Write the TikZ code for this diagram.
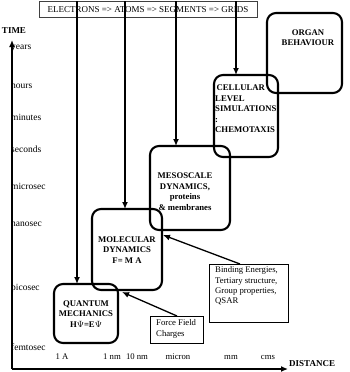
\documentclass[tikz,border=0pt]{standalone}
\usepackage{fontspec}
\setmainfont{Liberation Serif}
\usetikzlibrary{arrows.meta}
\begin{document}
\begin{tikzpicture}[x=1pt,y=-1pt,
  bigbox/.style={draw,line width=2.1pt,rounded corners=9pt,inner sep=0pt},
  thinbox/.style={draw,line width=0.7pt,inner sep=0pt},
  btxt/.style={font=\fontsize{8.7}{10.5}\selectfont\bfseries,align=center,inner sep=0pt},
  ltxt/.style={font=\fontsize{8.7}{10.3}\selectfont,align=left,inner sep=0pt,anchor=north west},
  tlab/.style={font=\fontsize{9.5}{11}\selectfont,anchor=west,inner sep=0pt},
  dlab/.style={font=\fontsize{8.7}{10}\selectfont,inner sep=0pt},
  arr/.style={line width=1.3pt,-{Latex[length=7pt,width=6pt]}},
  axis/.style={line width=1.3pt,-{Latex[length=7pt,width=6pt]}}
]
\useasboundingbox (0,0) rectangle (350,372);

% top box
\node[thinbox,draw=black!75,minimum width=218pt,minimum height=16pt,font=\fontsize{9}{10}\selectfont] (top) at (148,9.5) {ELECTRONS => ATOMS => SEGMENTS => GRIDS};

% big boxes
\node[bigbox,minimum width=64pt,minimum height=59pt] (qm) at (86,313.5) {};
\node[btxt] (qmt) at (86,314) {QUANTUM\\MECHANICS\\H$\Psi$=E$\Psi$};

\node[bigbox,minimum width=70pt,minimum height=81pt] (md) at (127,249.5) {};
\node[btxt] (mdt) at (127,250) {MOLECULAR\\DYNAMICS\\F= M A};

\node[bigbox,minimum width=80pt,minimum height=84pt] (meso) at (190,188) {};
\node[btxt] (mesot) at (185,191.5) {MESOSCALE\\DYNAMICS,\\proteins\\\& membranes};

\node[bigbox,minimum width=64pt,minimum height=82pt] (cell) at (246,116) {};
\node[btxt,align=left,anchor=north west] (cellt) at (215,85) {\,CELLULAR\\LEVEL\\SIMULATIONS\\:\\CHEMOTAXIS};

\node[bigbox,minimum width=75pt,minimum height=80pt] (organ) at (304.5,53) {};
\node[btxt] (organt) at (308,37.5) {ORGAN\\BEHAVIOUR};

% thin boxes
\node[thinbox,minimum width=79pt,minimum height=58pt] (bind) at (248.5,293) {};
\node[ltxt] (bindt) at (215,266.5) {Binding Energies,\\Tertiary structure,\\Group properties,\\QSAR};

\node[thinbox,minimum width=53pt,minimum height=27pt] (ff) at (176.5,329.5) {};
\node[ltxt] (fft) at (156,319.5) {Force Field\\Charges};

% vertical arrows from the top box
\coordinate (a1) at (77,284);
\coordinate (a2) at (125,209);
\coordinate (a3) at (176,146);
\coordinate (a4) at (236,75);
\draw[arr] (a1 |- top.north) -- (a1);
\draw[arr] (a2 |- top.north) -- (a2);
\draw[arr] (a3 |- top.north) -- (a3);
\draw[arr] (a4 |- top.north) -- (a4);

% annotation arrows
\coordinate (b0) at (240,264);
\coordinate (b1) at (163,235);
\draw[arr] (b0) -- (b1);
\coordinate (f0) at (177,316);
\coordinate (f1) at (122,292);
\draw[arr] (f0) -- (f1);

% axes
\coordinate (o) at (12,369);
\coordinate (ty) at (12,40);
\coordinate (dx) at (288,369);
\draw[axis] (o) -- (ty);
\draw[axis] (o) -- (dx);
\node[font=\fontsize{9}{10}\selectfont\bfseries,inner sep=0pt] (time) at (14,31) {TIME};
\node[font=\fontsize{9}{10}\selectfont\bfseries,anchor=west,inner sep=0pt] (dist) at (289,364) {DISTANCE};

% time labels
\node[tlab] (t1) at (11,48) {years};
\node[tlab] (t2) at (11,85) {hours};
\node[tlab] (t3) at (11,117) {minutes};
\node[tlab] (t4) at (11,149) {seconds};
\node[tlab] (t5) at (11,186) {microsec};
\node[tlab] (t6) at (11,224) {nanosec};
\node[tlab] (t7) at (11,288) {picosec};
\node[tlab] (t8) at (11,347) {femtosec};

% distance labels
\node[dlab] (d1) at (62,357) {1 A};
\node[dlab] (d2) at (112,357) {1 nm};
\node[dlab] (d3) at (137,357) {10 nm};
\node[dlab] (d4) at (178,357) {micron};
\node[dlab] (d5) at (231,357) {mm};
\node[dlab] (d6) at (268,357) {cms};
\end{tikzpicture}
\end{document}
